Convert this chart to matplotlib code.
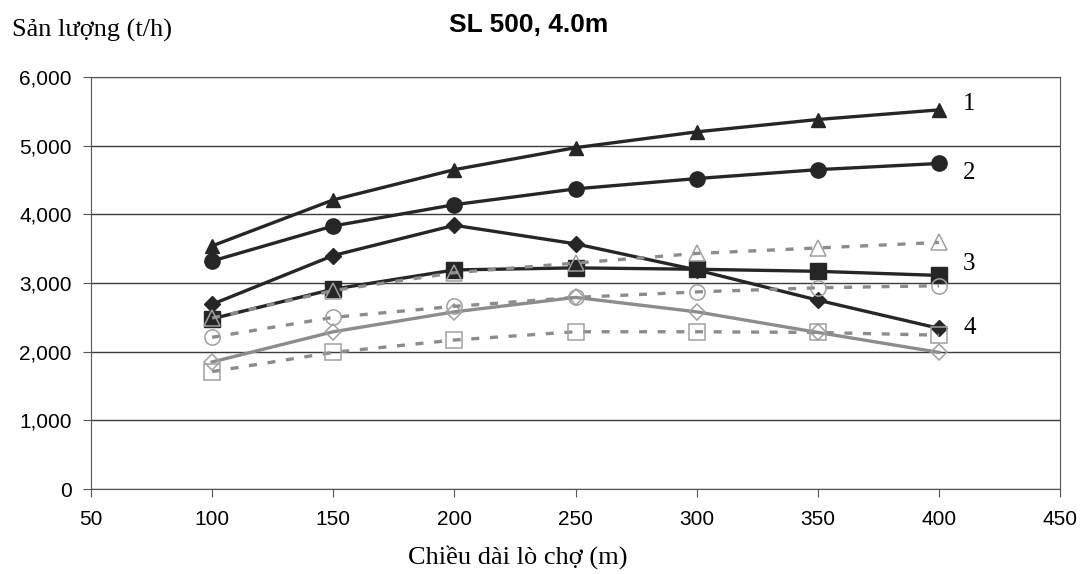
import matplotlib.pyplot as plt

x = [100, 150, 200, 250, 300, 350, 400]

# solid black series
s1_tri = [3540, 4210, 4650, 4970, 5200, 5380, 5520]
s2_circ = [3320, 3830, 4140, 4370, 4520, 4650, 4740]
s_diam = [2690, 3400, 3840, 3570, 3190, 2750, 2340]
s3_sq = [2480, 2910, 3190, 3220, 3200, 3170, 3110]

# gray dashed series (open markers)
g_tri = [2490, 2890, 3150, 3290, 3430, 3510, 3590]
g_circ = [2210, 2500, 2660, 2790, 2870, 2930, 2960]
g_sq = [1710, 1990, 2170, 2290, 2290, 2280, 2240]

# gray solid series (open diamonds)
g_diam = [1850, 2290, 2580, 2790, 2580, 2280, 1990]

curve_labels = ['1', '2', '3', '4']
label_y = [5600, 4600, 3270, 2350]

plt.rcParams['font.family'] = ['Liberation Sans', 'DejaVu Sans']
serif = ['Liberation Serif', 'DejaVu Serif']

fig = plt.figure(figsize=(10.81, 5.74), dpi=100)
ax = fig.add_axes([0.0842, 0.148, 0.8964, 0.718])

black = '#262626'
gray = '#8c8c8c'
lgray = '#a0a0a0'
dash = (0, (2.4, 3.2))

ax.plot(x, s1_tri, color=black, lw=2.4, marker='^', ms=10, zorder=3)
ax.plot(x, s2_circ, color=black, lw=2.4, marker='o', ms=11, zorder=3)
ax.plot(x, s_diam, color=black, lw=2.4, marker='D', ms=8, zorder=3)
ax.plot(x, s3_sq, color=black, lw=2.4, marker='s', ms=11, zorder=3)

ax.plot(x, g_diam, color=gray, lw=2.4, marker='D', ms=8, mfc='none', mec=lgray, mew=1.1, zorder=4)
ax.plot(x, g_tri, color=gray, lw=2.4, ls=dash, marker='^', ms=11, mfc='none', mec=lgray, mew=1.1, zorder=4)
ax.plot(x, g_circ, color=gray, lw=2.4, ls=dash, marker='o', ms=11, mfc='none', mec=lgray, mew=1.1, zorder=4)
ax.plot(x, g_sq, color=gray, lw=2.4, ls=dash, marker='s', ms=11, mfc='none', mec=lgray, mew=1.1, zorder=4)

for lab, yy in zip(curve_labels, label_y):
    ax.text(410, yy, lab, family=serif, fontsize=18, ha='left', va='center')

ax.set_xlim(50, 450)
ax.set_ylim(0, 6000)
ax.set_xticks(range(50, 451, 50))
ax.set_yticks(range(0, 6001, 1000))
ax.set_yticklabels([f'{v:,}' for v in range(0, 6001, 1000)])
ax.yaxis.grid(True, color='#3c3c3c', lw=1)
ax.set_axisbelow(True)
for sp in ax.spines.values():
    sp.set_color('#555555')
ax.tick_params(direction='out', length=6, color='#555555', labelsize=15)
ax.tick_params(axis='y', pad=8)
ax.tick_params(axis='x', pad=9)

fig.text(0.011, 0.947, 'Sản lượng (t/h)', family=serif, fontsize=19, ha='left', va='center')
fig.text(0.489, 0.957, 'SL 500, 4.0m', fontsize=19, fontweight='bold', ha='center', va='center')
fig.text(0.479, 0.03, 'Chiều dài lò chợ (m)', family=serif, fontsize=19, ha='center', va='center')

fig.savefig('out.png', dpi=100)
